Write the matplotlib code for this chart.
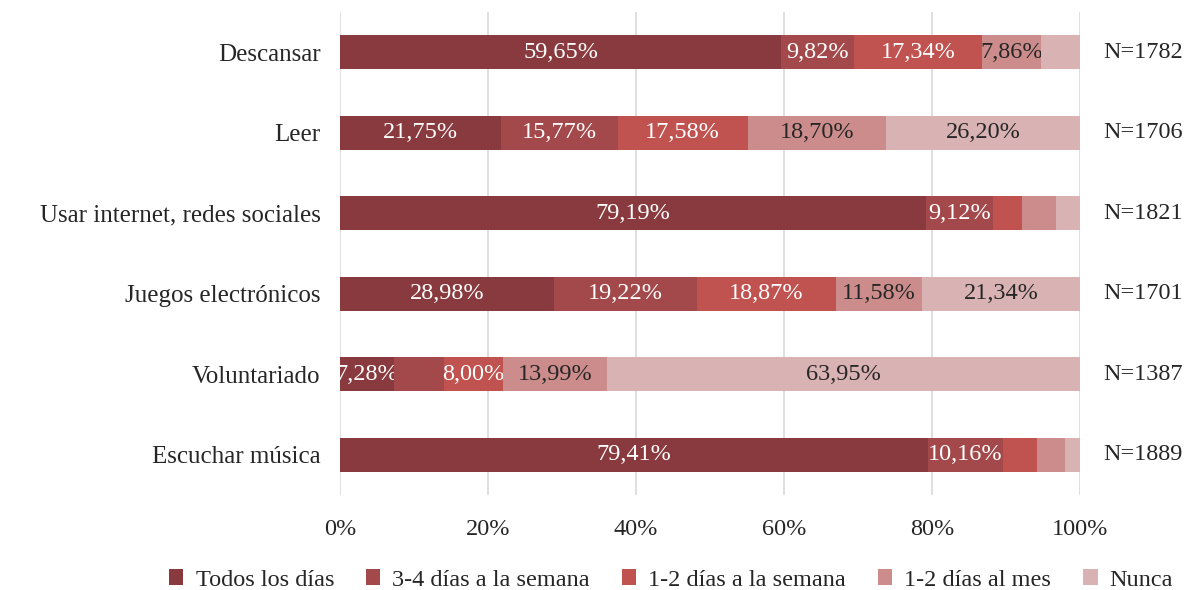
import matplotlib
matplotlib.use("Agg")
import matplotlib.pyplot as plt
import numpy as np

plt.rcParams['font.family'] = ['Liberation Serif', 'DejaVu Serif']

categories = ["Descansar", "Leer", "Usar internet, redes sociales",
              "Juegos electrónicos", "Voluntariado", "Escuchar música"]
n_labels = ["N=1782", "N=1706", "N=1821", "N=1701", "N=1387", "N=1889"]
series_names = ["Todos los días", "3-4 días a la semana", "1-2 días a la semana",
                "1-2 días al mes", "Nunca"]
todos = [59.65, 21.75, 79.19, 28.98, 7.28, 79.41]
tres_cuatro = [9.82, 15.77, 9.12, 19.22, 6.78, 10.16]
uno_dos_sem = [17.34, 17.58, 3.90, 18.87, 8.00, 4.65]
uno_dos_mes = [7.86, 18.70, 4.50, 11.58, 13.99, 3.78]
nunca = [5.33, 26.20, 3.29, 21.34, 63.95, 2.00]
xticks = [0, 20, 40, 60, 80, 100]

colors = ["#893A3E", "#A4494B", "#C0524F", "#CC8C8B", "#D9B2B3"]
label_colors = ["white", "white", "white", "#262626", "#262626"]
series = [todos, tres_cuatro, uno_dos_sem, uno_dos_mes, nunca]

FS = 17.5

fig = plt.figure(figsize=(11.86, 5.90), dpi=100)
ax = fig.add_axes([340/1186, 1-495/590, 740/1186, 483/590])

y = np.arange(len(categories))
left = np.zeros(len(categories))
for vals, col, lc, name in zip(series, colors, label_colors, series_names):
    vals = np.array(vals)
    bars = ax.barh(y, vals, left=left, height=0.42, color=col, label=name, zorder=3)
    labels = [(f"{v:.2f}".replace(".", ",") + "%") if v >= 7 else "" for v in vals]
    ax.bar_label(bars, labels=labels, label_type='center', color=lc, fontsize=FS)
    left += vals

ax.set_ylim(len(categories) - 0.5, -0.5)
ax.set_xlim(0, 100)
ax.set_yticks(y)
ax.set_yticklabels(categories, fontsize=FS + 0.5, color="#262626")
ax.set_xticks(xticks)
ax.set_xticklabels([f"{t}%" for t in xticks], fontsize=FS, color="#262626")
ax.tick_params(axis='both', length=0)
ax.tick_params(axis='x', pad=17)
ax.tick_params(axis='y', pad=14)
for s in ax.spines.values():
    s.set_visible(False)
ax.grid(axis='x', color="#d9d9d9", linewidth=1.2, zorder=0)

for yi, nl in zip(y, n_labels):
    ax.text(1.085, yi, nl, transform=ax.get_yaxis_transform(), ha='center', va='center',
            fontsize=FS, color="#262626")

fig.legend(loc='center', bbox_to_anchor=(671/1186, 1-580/590), ncol=5, frameon=False,
           fontsize=FS, handlelength=0.6, handleheight=0.6, handletextpad=0.5,
           columnspacing=1.3, labelcolor="#262626")

fig.savefig("out.png", dpi=100)
